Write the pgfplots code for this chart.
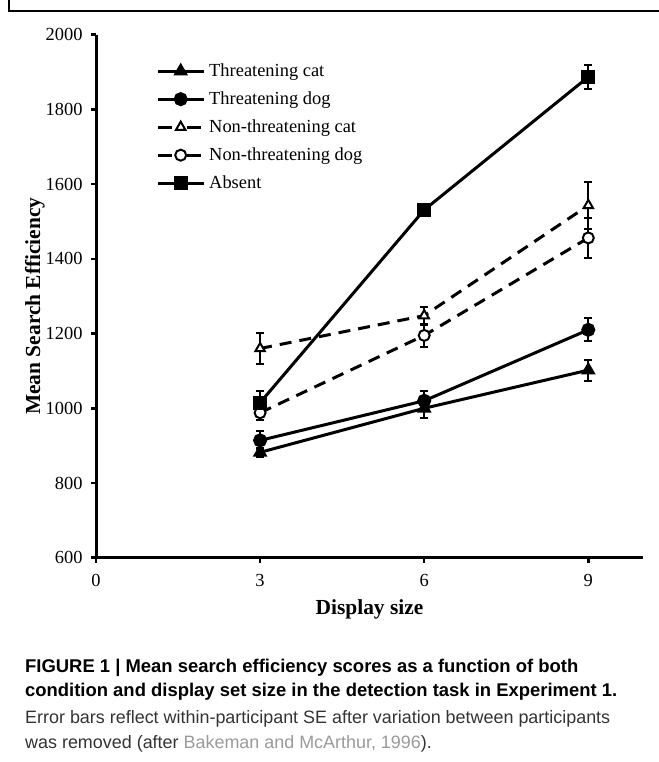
\documentclass[border=0pt]{standalone}
\usepackage{fontspec}
\setmainfont{Liberation Serif}
\newfontfamily\capfont{Liberation Sans}
\usepackage{pgfplots}
\pgfplotsset{compat=1.18}
\definecolor{captxt}{HTML}{333333}
\definecolor{citetxt}{HTML}{9A9A9A}
\begin{document}
\begin{tikzpicture}[x=1bp,y=1bp]
\useasboundingbox (0,0) rectangle (659,762);
\draw[line width=2.4bp, line join=miter] (8.7,762) -- (8.7,751) -- (659,751);
\begin{axis}[
  at={(96bp,204.3bp)}, anchor=south west,
  scale only axis, width=547bp, height=523bp,
  xmin=0, xmax=10, ymin=600, ymax=2000,
  xtick={0,3,6,9}, ytick={600,800,1000,1200,1400,1600,1800,2000},
  axis lines*=left,
  axis line style={line width=3bp},
  tick align=outside, major tick length=5bp,
  tick style={line width=2.5bp, black},
  /pgf/number format/assume math mode=true,
  /pgf/number format/1000 sep={},
  tick label style={font=\fontsize{18.5}{18.5}\selectfont},
  yticklabel style={xshift=-5bp},
  xticklabel style={yshift=-8bp},
  xlabel={\textbf{Display size}},
  ylabel={\textbf{Mean Search Efficiency}},
  label style={font=\fontsize{21.5}{21.5}\selectfont},
  xlabel style={yshift=-6bp},
  ylabel style={at={(ticklabel cs:0.481)}, yshift=-6bp},
  legend style={at={(axis description cs:0.1097,0.9574)}, anchor=north west,
    draw=none, fill=none, inner sep=0pt, row sep=0pt, column sep=4bp,
    font=\fontsize{18.5}{18.5}\selectfont,
    nodes={inner sep=0pt, minimum height=28bp}},
  legend cell align=left,
  legend image code/.code={\draw[mark repeat=2,mark phase=2,#1] plot coordinates {(0bp,0bp)(23bp,0bp)(46bp,0bp)};},
  error bars/error bar style={solid, line width=2bp, black},
  error bars/error mark options={rotate=90, mark size=4bp, line width=2bp, solid, black},
]
\addplot[black, line width=3bp, mark=triangle*, mark size=5.5bp, mark options={solid, fill=black},
  error bars/.cd, y dir=both, y explicit]
  coordinates {(3,882) +- (0,12) (6,1000) +- (0,25) (9,1102) +- (0,28)};
\addlegendentry{Threatening cat}
\addplot[black, line width=3bp, mark=*, mark size=5.5bp, mark options={solid, fill=black},
  error bars/.cd, y dir=both, y explicit]
  coordinates {(3,914) +- (0,24) (6,1020) +- (0,25) (9,1210) +- (0,31)};
\addlegendentry{Threatening dog}
\addplot[black, line width=3bp, dash pattern=on 12bp off 8bp, mark=triangle*, mark size=5.5bp, mark options={solid, fill=white, line width=2bp},
  legend image post style={dash pattern=on 14bp off 15bp},
  error bars/.cd, y dir=both, y explicit]
  coordinates {(3,1160) +- (0,41) (6,1248) +- (0,24) (9,1543) +- (0,62)};
\addlegendentry{Non-threatening cat}
\addplot[black, line width=3bp, dash pattern=on 12bp off 8bp, mark=*, mark size=5.5bp, mark options={solid, fill=white, line width=2bp},
  legend image post style={dash pattern=on 14bp off 15bp},
  error bars/.cd, y dir=both, y explicit]
  coordinates {(3,988) +- (0,20) (6,1195) +- (0,30) (9,1456) +- (0,54)};
\addlegendentry{Non-threatening dog}
\addplot[black, line width=3bp, mark=square*, mark size=5.5bp, mark options={solid, fill=black},
  error bars/.cd, y dir=both, y explicit]
  coordinates {(3,1015) +- (0,30) (6,1531) +- (0,8) (9,1887) +- (0,32)};
\addlegendentry{Absent}
\end{axis}
\node[anchor=base west, inner sep=0pt, font=\capfont\bfseries\fontsize{18.5}{18.5}\selectfont] at (25,89.3) {FIGURE 1 | Mean search efficiency scores as a function of both};
\node[anchor=base west, inner sep=0pt, font=\capfont\bfseries\fontsize{18.5}{18.5}\selectfont] at (25,65.3) {condition and display set size in the detection task in Experiment 1.};
\node[anchor=base west, inner sep=0pt, text=captxt, font=\capfont\fontsize{18}{18}\selectfont] at (25,38.7) {Error bars reflect within-participant SE after variation between participants};
\node[anchor=base west, inner sep=0pt, text=captxt, font=\capfont\fontsize{18}{18}\selectfont] at (25,13.7) {was removed (after \textcolor{citetxt}{Bakeman and McArthur, 1996}).};
\end{tikzpicture}
\end{document}
